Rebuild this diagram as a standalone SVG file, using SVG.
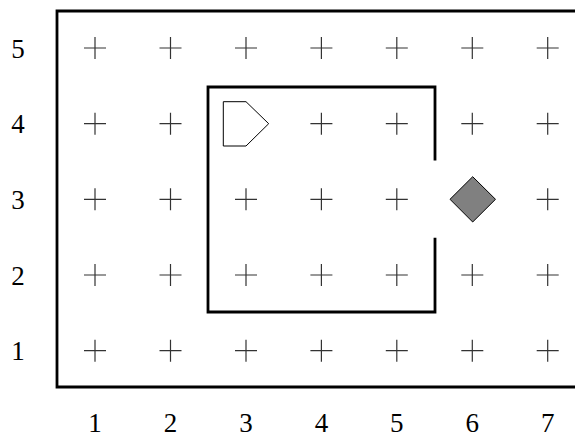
<svg xmlns="http://www.w3.org/2000/svg" width="575" height="438" viewBox="0 0 575 438">
<style>
.lbl{font-family:"Liberation Serif","DejaVu Serif",serif;font-size:27px;fill:#000;text-anchor:middle}
.cross{stroke:#333;stroke-width:1.2;fill:none}
.wall{stroke:#000;stroke-width:2.8;fill:none}
</style>
<defs>
<path id="x" class="cross" d="M-11,0H11M0,-11V11"/>
</defs>
<rect width="575" height="438" fill="#fff"/>
<g id="labels">
<text class="lbl" x="18" y="57.5">5</text>
<text class="lbl" x="18" y="133.2">4</text>
<text class="lbl" x="18" y="208.8">3</text>
<text class="lbl" x="18" y="284.5">2</text>
<text class="lbl" x="18" y="360.2">1</text>
<text class="lbl" x="95" y="431.5">1</text>
<text class="lbl" x="170.5" y="431.5">2</text>
<text class="lbl" x="246" y="431.5">3</text>
<text class="lbl" x="321.4" y="431.5">4</text>
<text class="lbl" x="396.8" y="431.5">5</text>
<text class="lbl" x="472.3" y="431.5">6</text>
<text class="lbl" x="547.7" y="431.5">7</text>
</g>
<g id="grid">
<use href="#x" x="95" y="48"/><use href="#x" x="170.5" y="48"/><use href="#x" x="246" y="48"/><use href="#x" x="321.4" y="48"/><use href="#x" x="396.8" y="48"/><use href="#x" x="472.3" y="48"/><use href="#x" x="547.7" y="48"/>
<use href="#x" x="95" y="123.7"/><use href="#x" x="170.5" y="123.7"/><use href="#x" x="321.4" y="123.7"/><use href="#x" x="396.8" y="123.7"/><use href="#x" x="472.3" y="123.7"/><use href="#x" x="547.7" y="123.7"/>
<use href="#x" x="95" y="199.3"/><use href="#x" x="170.5" y="199.3"/><use href="#x" x="246" y="199.3"/><use href="#x" x="321.4" y="199.3"/><use href="#x" x="396.8" y="199.3"/><use href="#x" x="547.7" y="199.3"/>
<use href="#x" x="95" y="275"/><use href="#x" x="170.5" y="275"/><use href="#x" x="246" y="275"/><use href="#x" x="321.4" y="275"/><use href="#x" x="396.8" y="275"/><use href="#x" x="472.3" y="275"/><use href="#x" x="547.7" y="275"/>
<use href="#x" x="95" y="350.7"/><use href="#x" x="170.5" y="350.7"/><use href="#x" x="246" y="350.7"/><use href="#x" x="321.4" y="350.7"/><use href="#x" x="396.8" y="350.7"/><use href="#x" x="472.3" y="350.7"/><use href="#x" x="547.7" y="350.7"/>
</g>
<g id="walls">
<path id="outer" class="wall" d="M576,11H57V387H576"/>
<path id="inner" class="wall" d="M435,160.5V87H208V312H435V237.7"/>
</g>
<g id="agent">
<polygon points="223.3,101.7 246,101.7 268.7,123.7 246,146 223.3,146" fill="#fff" stroke="#000" stroke-width="1"/>
</g>
<g id="goal">
<polygon points="472.7,176.7 495.5,199.3 472.7,222 450,199.3" fill="#808080" stroke="#000" stroke-width="1"/>
</g>
</svg>
